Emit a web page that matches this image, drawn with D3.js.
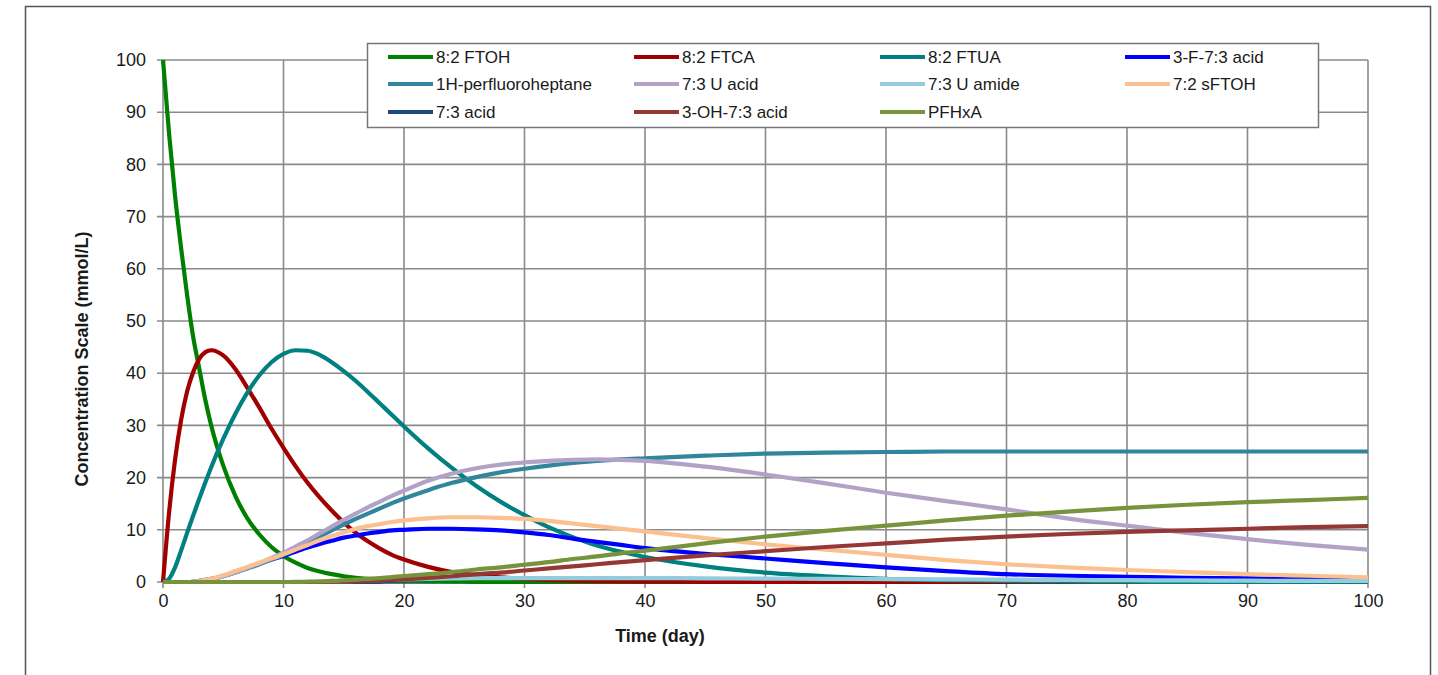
<!DOCTYPE html>
<html>
<head>
<meta charset="utf-8">
<script src="https://cdn.jsdelivr.net/npm/d3@7"></script>
<style>
  html, body { margin: 0; padding: 0; background: #fff; }
  svg { display: block; }
  text { font-family: "Liberation Sans", Arial, sans-serif; fill: #1a1a1a; }
</style>
</head>
<body>
<svg id="chart" width="1438" height="675"></svg>
<script>
// ---- data ----
const time = [0,0.5,1,1.5,2,2.5,3,3.5,4,5,6,7,8,9,10,11,12,13,14,15,16,17,18,19,20,22,24,26,28,30,32,34,36,38,40,45,50,55,60,65,70,75,80,85,90,95,100];

const ftoh82 = [100,86,74,64,55,47,41,35,30, 22.3,16.5,12.2,9.1,6.7,5,3.7,2.7,2,1.5,1.1,0.8,0.6,0.45,0.33,0.25, 0.14,0.07,0.04,0.02,0.01,0,0,0,0,0, 0,0,0,0,0,0,0,0,0,0,0,0];
const ftca82 = [0,13.2,23.4,31,36.5,40.2,42.7,44,44.4, 43.4,40.8,37.2,33.4,29.4,25.7,22.2,19,16.2,13.7,11.4,9.4,7.8,6.4,5.2,4.3, 2.9,1.9,1.3,0.9,0.6,0.4,0.27,0.18,0.12,0.08, 0.04,0.02,0.01,0,0,0,0,0,0,0,0,0];
const ftua82 = [0,0.6,2.8,6,9.4,12.7,15.9,19,22, 27.4,32.2,36.3,39.6,42.1,43.7,44.4,44.3,43.5,42.1,40.4,38.5,36.4,34.2,32,29.8, 25.6,21.8,18.4,15.4,12.8,10.5,8.6,7,5.8,4.8, 3,1.8,1.1,0.6,0.35,0.2,0.1,0.05,0,0,0,0];
const f73acid3 = [0,0,0,0,0,0.05,0.2,0.4,0.6, 1.2,1.9,2.7,3.5,4.3,5,5.8,6.6,7.3,7.9,8.5,8.9,9.3,9.6,9.9,10, 10.2,10.2,10.1,9.9,9.5,9,8.3,7.7,7.1,6.5, 5.4,4.5,3.6,2.8,2.1,1.5,1.2,1,0.8,0.7,0.6,0.4];
const h1pfhp = [0,0,0,0,0,0.05,0.2,0.35,0.5, 1.1,1.8,2.6,3.4,4.3,5.2,6.3,7.5,8.7,9.9,11,12.1,13.1,14.1,15.1,16, 17.6,19,20.1,21,21.7,22.3,22.8,23.2,23.5,23.7, 24.2,24.6,24.8,24.9,25,25,25,25,25,25,25,25];
const u73acid = [0,0,0,0,0,0.05,0.2,0.35,0.5, 1.1,1.8,2.7,3.6,4.6,5.6,6.8,8,9.3,10.6,11.9,13.1,14.3,15.4,16.5,17.5, 19.4,20.8,21.8,22.5,22.9,23.2,23.4,23.5,23.4,23.2, 22.1,20.6,18.9,17.1,15.5,13.9,12.2,10.8,9.4,8.2,7.1,6.2];
const u73amide = [0,0,0,0,0,0,0,0,0, 0,0,0,0,0,0,0,0.02,0.05,0.1,0.15,0.2,0.28,0.35,0.45,0.52, 0.6,0.68,0.72,0.75,0.75,0.75,0.75,0.75,0.75,0.75, 0.7,0.65,0.6,0.55,0.5,0.45,0.4,0.35,0.3,0.25,0.2,0.2];
const sftoh72 = [0,0,0,0,0,0.05,0.2,0.4,0.6, 1.3,2.1,2.9,3.7,4.5,5.3,6.2,7.1,8,8.8,9.5,10.2,10.7,11.1,11.5,11.8, 12.2,12.4,12.4,12.3,12.1,11.7,11.2,10.7,10.2,9.7, 8.4,7.2,6.2,5.2,4.2,3.4,2.8,2.3,1.9,1.5,1.2,0.9];
const acid73 = [0,0,0,0,0,0,0,0,0, 0,0,0,0,0,0,0,0,0,0,0,0.02,0.03,0.04,0.05,0.06, 0.08,0.1,0.1,0.12,0.12,0.14,0.14,0.15,0.15,0.15, 0.15,0.15,0.15,0.15,0.15,0.15,0.15,0.15,0.15,0.15,0.15,0.15];
const oh73acid3 = [0,0,0,0,0,0,0,0,0, 0,0,0,0,0,0,0,0,0.02,0.05,0.1,0.15,0.2,0.3,0.4,0.5, 0.8,1.1,1.5,1.8,2.2,2.6,3,3.4,3.8,4.2, 5.1,5.9,6.7,7.4,8.1,8.7,9.2,9.6,9.9,10.2,10.5,10.7];
const pfhxa = [0,0,0,0,0,0,0,0,0, 0,0,0,0,0,0,0.02,0.05,0.1,0.2,0.3,0.45,0.6,0.75,0.95,1.15, 1.5,1.9,2.4,2.8,3.3,3.8,4.4,4.9,5.5,6, 7.4,8.7,9.8,10.8,11.8,12.7,13.5,14.2,14.8,15.3,15.7,16.1];

const seriesNames = ["8:2 FTOH","8:2 FTCA","8:2 FTUA","3-F-7:3 acid","1H-perfluoroheptane","7:3 U acid","7:3 U amide","7:2 sFTOH","7:3 acid","3-OH-7:3 acid","PFHxA"];
const seriesValues = [ftoh82, ftca82, ftua82, f73acid3, h1pfhp, u73acid, u73amide, sftoh72, acid73, oh73acid3, pfhxa];
const seriesColors = ["#008000","#A00000","#008080","#0000FF","#31859C","#B3A2C7","#93CDDD","#FAC090","#1F497D","#953735","#77933C"];
// order in which the lines are stacked (7:3 acid sits underneath the others)
const drawOrder = [8,0,1,2,3,4,5,6,7,9,10];

const xTicks = [0,10,20,30,40,50,60,70,80,90,100];
const yTicks = [0,10,20,30,40,50,60,70,80,90,100];
const xTitle = "Time (day)";
const yTitle = "Concentration Scale (mmol/L)";

// ---- drawing ----
const svg = d3.select("#chart");
const FONT = '"Liberation Sans", Arial, sans-serif';
const plot = {left: 163, right: 1368, top: 60, bottom: 582};

const x = d3.scaleLinear().domain([0, 100]).range([plot.left, plot.right]);
const y = d3.scaleLinear().domain([0, 100]).range([plot.bottom, plot.top]);

// outer frame
svg.append("rect")
  .attr("x", 25.5).attr("y", 6.5).attr("width", 1405).attr("height", 720)
  .attr("fill", "none").attr("stroke", "#555").attr("stroke-width", 1.5);

const gridColor = "#8a8a8a";

// horizontal grid
svg.append("g").selectAll("line").data(yTicks).join("line")
  .attr("x1", plot.left - 6).attr("x2", plot.right)
  .attr("y1", d => y(d)).attr("y2", d => y(d))
  .attr("stroke", gridColor).attr("stroke-width", 1.6);

// vertical grid
svg.append("g").selectAll("line").data(xTicks).join("line")
  .attr("x1", d => x(d)).attr("x2", d => x(d))
  .attr("y1", plot.top).attr("y2", plot.bottom + 6)
  .attr("stroke", gridColor).attr("stroke-width", 1.6);

// axes (labels via d3 axes)
const yAxis = svg.append("g").attr("transform", `translate(${plot.left - 6},0)`)
  .call(d3.axisLeft(y).tickValues(yTicks).tickSize(0).tickPadding(11).tickFormat(d3.format("d")));
yAxis.select(".domain").remove();
yAxis.selectAll("text").attr("font-size", 18).attr("font-family", FONT).attr("fill", "#1a1a1a");

const xAxis = svg.append("g").attr("transform", `translate(0,${plot.bottom + 6})`)
  .call(d3.axisBottom(x).tickValues(xTicks).tickSize(0).tickPadding(6).tickFormat(d3.format("d")));
xAxis.select(".domain").remove();
xAxis.selectAll("text").attr("font-size", 18).attr("font-family", FONT).attr("fill", "#1a1a1a");

// axis titles
svg.append("text")
  .attr("x", 660).attr("y", 642)
  .attr("text-anchor", "middle")
  .attr("font-size", 18).attr("font-weight", "bold")
  .text(xTitle);

svg.append("text")
  .attr("transform", "translate(88,359) rotate(-90)")
  .attr("text-anchor", "middle")
  .attr("font-size", 18).attr("font-weight", "bold")
  .text(yTitle);

// lines
const line = d3.line()
  .x((d, i) => x(time[i]))
  .y(d => y(d))
  .curve(d3.curveMonotoneX);

svg.append("clipPath").attr("id", "clip")
  .append("rect").attr("x", plot.left - 3).attr("y", plot.top - 4)
  .attr("width", plot.right - plot.left + 6).attr("height", plot.bottom - plot.top + 6);

const lines = svg.append("g").attr("clip-path", "url(#clip)");
drawOrder.forEach(k => {
  lines.append("path")
    .datum(seriesValues[k])
    .attr("d", line)
    .attr("fill", "none")
    .attr("stroke", seriesColors[k])
    .attr("stroke-width", 4.2)
    .attr("stroke-linejoin", "round")
    .attr("stroke-linecap", "butt");
});

// legend
const legend = svg.append("g");
legend.append("rect")
  .attr("x", 367.5).attr("y", 43.5).attr("width", 951).attr("height", 84)
  .attr("fill", "#fff").attr("stroke", "#777").attr("stroke-width", 1.5);

const colX = [388, 634, 880, 1125];
const rowY = [57, 84, 112];
seriesNames.forEach((name, k) => {
  const c = k % 4, r = Math.floor(k / 4);
  const g = legend.append("g").attr("transform", `translate(${colX[c]},${rowY[r]})`);
  g.append("line").attr("x1", 0).attr("x2", 45).attr("y1", 0).attr("y2", 0)
    .attr("stroke", seriesColors[k]).attr("stroke-width", 4);
  g.append("text").attr("x", 48).attr("y", 6)
    .attr("font-size", 17).attr("font-family", FONT).attr("fill", "#1a1a1a")
    .text(name);
});
</script>
</body>
</html>
